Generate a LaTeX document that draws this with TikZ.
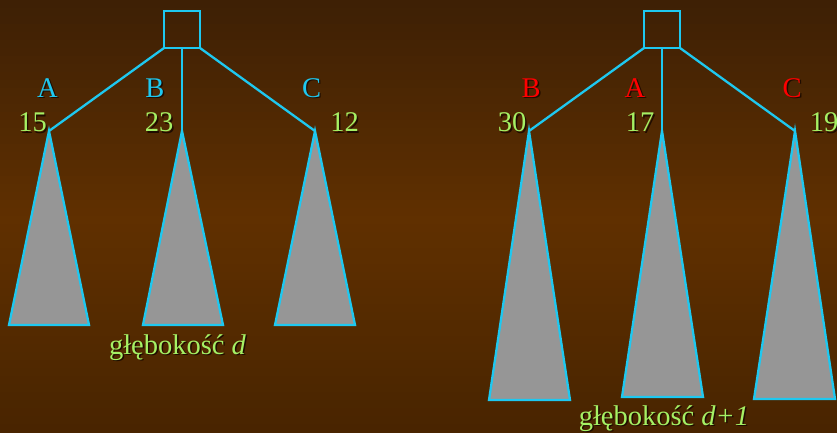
\documentclass[tikz,border=0pt]{standalone}
\usepackage{fontspec}
\setmainfont{Liberation Serif}
\definecolor{bgtop}{RGB}{62,32,5}
\definecolor{bgmid}{RGB}{96,48,0}
\definecolor{bgbot}{RGB}{72,36,0}
\definecolor{edgec}{RGB}{30,200,240}
\definecolor{numc}{RGB}{165,240,100}
\definecolor{subc}{RGB}{30,200,240}
\definecolor{redc}{RGB}{255,0,0}
\definecolor{trifill}{RGB}{150,150,150}
\definecolor{shadowc}{RGB}{30,12,0}
\begin{document}
\begin{tikzpicture}[x=1pt,y=-1pt,
  edge/.style={draw=edgec,line width=2.3pt},
  rootbox/.style={draw=edgec,line width=2.3pt,minimum width=36pt,minimum height=37pt,inner sep=0pt,outer sep=0pt},
  subtree/.style={draw=edgec,fill=trifill,line width=2.3pt,line join=miter},
  lbl/.style={font=\fontsize{28.5}{30}\selectfont,anchor=base,inner sep=0pt},
  shd/.style={lbl,text=shadowc,xshift=1.5pt,yshift=-1.5pt}]
\useasboundingbox (0,0) rectangle (837,432);
% background gradient as strips
\foreach \i in {0,...,53}{
  \pgfmathtruncatemacro{\p}{round(100*\i/27)}
  \ifnum\i<27
    \colorlet{stripc}{bgmid!\p!bgtop}
  \else
    \pgfmathtruncatemacro{\q}{round(100*(\i-27)/27)}
    \colorlet{stripc}{bgbot!\q!bgmid}
  \fi
  \fill[stripc] (0,{\i*8}) rectangle (837,{\i*8+8.6});
}

% left tree
\node[rootbox] (r1) at (182,29.5) {};
\coordinate (l1) at (49,131);
\coordinate (l2) at (182,131);
\coordinate (l3) at (315,131);
\draw[subtree] (l1) -- (9,325) -- (89,325) -- cycle;
\draw[subtree] (l2) -- (143,325) -- (223,325) -- cycle;
\draw[subtree] (l3) -- (275,325) -- (355,325) -- cycle;
\draw[edge] (r1.south west) -- (l1);
\draw[edge] (r1.south) -- (l2);
\draw[edge] (r1.south east) -- (l3);

% right tree
\node[rootbox] (r2) at (662,29.5) {};
\coordinate (m1) at (529,131);
\coordinate (m2) at (662,131);
\coordinate (m3) at (795,131);
\draw[subtree] (m1) -- (489,400) -- (570,400) -- cycle;
\draw[subtree] (m2) -- (622,397) -- (703,397) -- cycle;
\draw[subtree] (m3) -- (754,399) -- (835,399) -- cycle;
\draw[edge] (r2.south west) -- (m1);
\draw[edge] (r2.south) -- (m2);
\draw[edge] (r2.south east) -- (m3);

% labels
\foreach \x/\y/\t/\c/\n in {47.5/97/A/subc/la, 155/97/B/subc/lb, 311.5/97/C/subc/lc,
  32.5/131.5/15/numc/n15, 159/131.5/23/numc/n23, 344.5/131.5/12/numc/n12,
  531/97/B/redc/ra, 635/97/A/redc/rb, 792/97/C/redc/rc,
  512/131.5/30/numc/n30, 640/131.5/17/numc/n17, 824/131.5/19/numc/n19}{
  \node[shd] (s\n) at (\x,\y) {\t};
  \node[lbl,text=\c] (\n) at (\x,\y) {\t};
}
\node[shd] (sd1) at (177.5,354) {głębokość \textit{d}};
\node[lbl,text=numc] (d1) at (177.5,354) {głębokość \textit{d}};
\node[shd] (sd2) at (664,425) {głębokość \textit{d+1}};
\node[lbl,text=numc] (d2) at (664,425) {głębokość \textit{d+1}};
\end{tikzpicture}
\end{document}
